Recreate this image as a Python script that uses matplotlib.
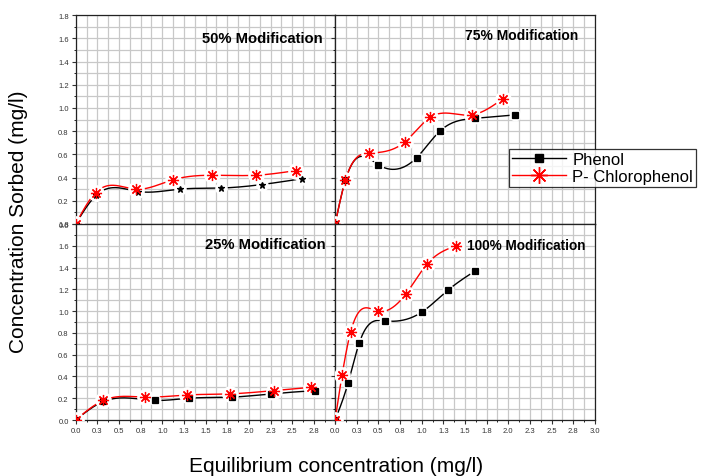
import numpy as np
import matplotlib
matplotlib.use('Agg')
import matplotlib.pyplot as plt
from matplotlib.lines import Line2D
from matplotlib.ticker import MultipleLocator, FixedLocator

plt.rcParams['font.family'] = ['Liberation Sans', 'DejaVu Sans']

# data (x: equilibrium conc., y: conc. sorbed)
x50_phenol = [0.0, 0.24, 0.72, 1.20, 1.68, 2.15, 2.61]
y50_phenol = [0.0, 0.25, 0.28, 0.30, 0.31, 0.34, 0.39]
x50_chloro = [0.0, 0.23, 0.70, 1.12, 1.58, 2.08, 2.54]
y50_chloro = [0.0, 0.27, 0.30, 0.38, 0.42, 0.42, 0.46]

x75_phenol = [0.0, 0.12, 0.50, 0.94, 1.21, 1.61, 2.08]
y75_phenol = [0.0, 0.38, 0.51, 0.57, 0.80, 0.91, 0.94]
x75_chloro = [0.0, 0.12, 0.39, 0.81, 1.10, 1.58, 1.94]
y75_chloro = [0.0, 0.38, 0.61, 0.71, 0.92, 0.94, 1.08]

x25_phenol = [0.0, 0.32, 0.92, 1.31, 1.80, 2.26, 2.76]
y25_phenol = [0.0, 0.17, 0.18, 0.20, 0.21, 0.24, 0.27]
x25_chloro = [0.0, 0.32, 0.80, 1.29, 1.78, 2.29, 2.72]
y25_chloro = [0.0, 0.18, 0.21, 0.23, 0.24, 0.27, 0.30]

x100_phenol = [0.0, 0.15, 0.28, 0.58, 1.00, 1.30, 1.62]
y100_phenol = [0.0, 0.34, 0.71, 0.91, 0.99, 1.19, 1.37]
x100_chloro = [0.0, 0.08, 0.18, 0.49, 0.82, 1.06, 1.40]
y100_chloro = [0.0, 0.41, 0.81, 1.00, 1.16, 1.43, 1.60]

xtick_vals = [0.0, 0.25, 0.5, 0.75, 1.0, 1.25, 1.5, 1.75, 2.0, 2.25, 2.5, 2.75, 3.0]
xtick_labels = ['0.0', '0.3', '0.5', '0.8', '1.0', '1.3', '1.5', '1.8', '2.0', '2.3', '2.5', '2.8', '3.0']
ytick_vals = [0.0, 0.2, 0.4, 0.6, 0.8, 1.0, 1.2, 1.4, 1.6, 1.8]
ytick_labels = ['0.0', '0.2', '0.4', '0.6', '0.8', '1.0', '1.2', '1.4', '1.6', '1.8']


def spline(x, y, n=300):
    # natural cubic spline through the points (like Origin's spline connect)
    x = np.asarray(x, float)
    y = np.asarray(y, float)
    h = np.diff(x)
    m = len(x)
    A = np.zeros((m, m))
    b = np.zeros(m)
    A[0, 0] = A[-1, -1] = 1
    for i in range(1, m - 1):
        A[i, i - 1] = h[i - 1]
        A[i, i] = 2 * (h[i - 1] + h[i])
        A[i, i + 1] = h[i]
        b[i] = 3 * ((y[i + 1] - y[i]) / h[i] - (y[i] - y[i - 1]) / h[i - 1])
    c = np.linalg.solve(A, b)
    xs = np.linspace(x[0], x[-1], n)
    idx = np.clip(np.searchsorted(x, xs) - 1, 0, m - 2)
    dx = xs - x[idx]
    bc = (y[idx + 1] - y[idx]) / h[idx] - h[idx] * (2 * c[idx] + c[idx + 1]) / 3
    d = (c[idx + 1] - c[idx]) / (3 * h[idx])
    return xs, y[idx] + bc * dx + c[idx] * dx ** 2 + d * dx ** 3


def draw(ax, x, y, color, marker, ms):
    xs, ys = spline(x, y)
    ax.plot(xs, ys, color=color, lw=1, zorder=3)
    # white halo so the line shows a gap around each symbol
    ax.plot(x, y, ls='none', marker='o', ms=ms + 3, mfc='white', mec='white', zorder=4)
    ax.plot(x, y, ls='none', marker=marker, ms=ms, color=color, mec=color, mew=0.9, zorder=5)


STAR = (8, 2, 0)

fig = plt.figure(figsize=(7.04, 4.77), dpi=100)
left1, left2, w = 0.1075, 0.4760, 0.3690
top_b, top_h = 0.5283, 0.4380
bot_b, bot_h = 0.1174, 0.4110

ax_tl = fig.add_axes([left1, top_b, w, top_h])
ax_tr = fig.add_axes([left2, top_b, w, top_h])
ax_bl = fig.add_axes([left1, bot_b, w, bot_h])
ax_br = fig.add_axes([left2, bot_b, w, bot_h])

for ax in [ax_tl, ax_tr, ax_bl, ax_br]:
    ax.set_xlim(0, 3.0)
    ax.set_ylim(0, 1.8)
    ax.xaxis.set_major_locator(FixedLocator(xtick_vals))
    ax.yaxis.set_major_locator(FixedLocator(ytick_vals))
    ax.xaxis.set_minor_locator(MultipleLocator(0.125))
    ax.yaxis.set_minor_locator(MultipleLocator(0.1))
    ax.grid(True, which='both', color='#c8c8c8', lw=0.9)
    ax.set_axisbelow(True)
    ax.tick_params(which='major', direction='out', length=3, width=0.8, labelsize=5.5, colors='#333333', pad=2)
    ax.tick_params(which='minor', direction='out', length=1.5, width=0.6)
    for s in ax.spines.values():
        s.set_color('#222222')
        s.set_linewidth(0.9)
    ax.set_xticklabels([])
    ax.set_yticklabels([])

ax_tl.set_yticklabels(ytick_labels)
ax_bl.set_yticklabels(ytick_labels)
ax_bl.set_xticklabels(xtick_labels[:-1] + [''])
ax_br.set_xticklabels(xtick_labels)

draw(ax_tl, x50_phenol, y50_phenol, 'black', '*', 5)
draw(ax_tl, x50_chloro, y50_chloro, 'red', STAR, 8)
draw(ax_tr, x75_phenol, y75_phenol, 'black', 's', 4.5)
draw(ax_tr, x75_chloro, y75_chloro, 'red', STAR, 8)
draw(ax_bl, x25_phenol, y25_phenol, 'black', 's', 4.5)
draw(ax_bl, x25_chloro, y25_chloro, 'red', STAR, 8)
draw(ax_br, x100_phenol, y100_phenol, 'black', 's', 4.5)
draw(ax_br, x100_chloro, y100_chloro, 'red', STAR, 8)

tkw = dict(fontweight='bold', ha='center', va='center', zorder=6)
ax_tl.text(0.72, 0.89, '50% Modification', transform=ax_tl.transAxes, fontsize=10.6, **tkw)
ax_tr.text(0.718, 0.904, '75% Modification', transform=ax_tr.transAxes, fontsize=10, **tkw)
ax_bl.text(0.73, 0.898, '25% Modification', transform=ax_bl.transAxes, fontsize=10.6, **tkw)
ax_br.text(0.737, 0.893, '100% Modification', transform=ax_br.transAxes, fontsize=9.8, **tkw)

handles = [Line2D([], [], color='black', lw=1, marker='s', ms=6),
           Line2D([], [], color='red', lw=1, marker=STAR, ms=12, mew=1)]
leg = fig.legend(handles, ['Phenol', 'P- Chlorophenol'], loc='upper left',
                 bbox_to_anchor=(0.723, 0.686), bbox_transform=fig.transFigure,
                 fontsize=12, frameon=True, fancybox=False, handlelength=3.2,
                 borderpad=0.2, labelspacing=0.1, handletextpad=0.4, borderaxespad=0)
leg.get_frame().set_edgecolor('black')
leg.get_frame().set_linewidth(0.9)

fig.text(0.026, 0.535, 'Concentration Sorbed (mg/l)', rotation=90, ha='center', va='center', fontsize=15)
fig.text(0.477, 0.023, 'Equilibrium concentration (mg/l)', ha='center', va='center', fontsize=15)

fig.savefig('out.png', dpi=100)
